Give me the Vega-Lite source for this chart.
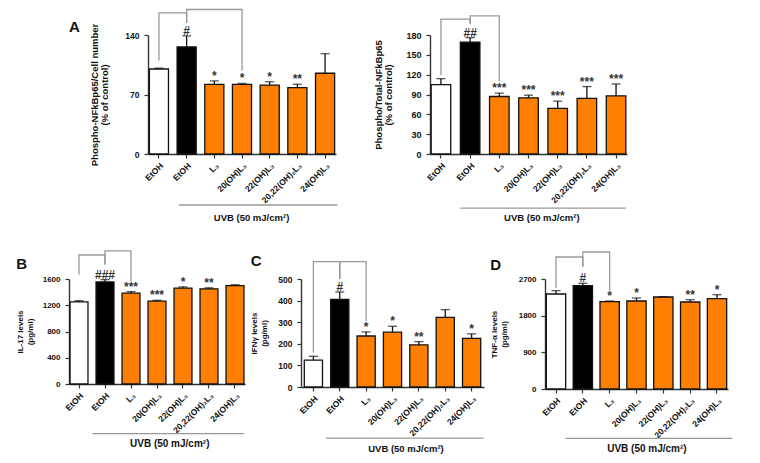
{
  "$schema": "https://vega.github.io/schema/vega-lite/v6.json",
  "background": "white",
  "autosize": {"type": "pad"},
  "padding": {"left": 16, "top": 6, "right": 0, "bottom": 0},
  "config": {
    "view": {"stroke": null},
    "font": "Liberation Sans",
    "axis": {"grid": false, "domainColor": "#333", "domainWidth": 1.4, "tickColor": "#333", "tickWidth": 1.2, "tickSize": 4, "labelFont": "Liberation Sans", "labelFontWeight": "bold", "labelColor": "#111", "labelPadding": 3, "titleFont": "Liberation Sans", "titleFontWeight": "bold", "titleColor": "#111", "titleLineHeight": 10},
    "axisX": {"labelAngle": -45, "title": null, "labelFontSize": 8.5},
    "axisY": {"labelPadding": 5, "labelOverlap": false},
    "title": {"font": "Liberation Sans", "color": "#111", "fontWeight": "bold", "fontSize": 15}
  },
  "datasets": {
    "a1": [
      {"g": "EtOH", "v": 100, "err": 101, "sig": ""},
      {"g": "EtOH UVB", "v": 126, "err": 139, "sig": "#"},
      {"g": "L₃", "v": 82, "err": 86, "sig": "*"},
      {"g": "20(OH)L₃", "v": 82, "err": 83, "sig": "*"},
      {"g": "22(OH)L₃", "v": 81, "err": 85, "sig": "*"},
      {"g": "20,22(OH)₂L₃", "v": 78, "err": 82, "sig": "**"},
      {"g": "24(OH)L₃", "v": 95, "err": 118, "sig": ""}
    ],
    "a1br": [
      {"b": 1, "o": 1, "g": "EtOH", "v": 110}, {"b": 1, "o": 2, "g": "EtOH", "v": 166}, {"b": 1, "o": 3, "g": "EtOH UVB", "v": 166}, {"b": 1, "o": 4, "g": "EtOH UVB", "v": 154},
      {"b": 2, "o": 1, "g": "EtOH UVB", "v": 154}, {"b": 2, "o": 2, "g": "EtOH UVB", "v": 170}, {"b": 2, "o": 3, "g": "20(OH)L₃", "v": 170}, {"b": 2, "o": 4, "g": "20(OH)L₃", "v": 98}
    ],
    "a2": [
      {"g": "EtOH", "v": 105, "err": 114, "sig": ""},
      {"g": "EtOH UVB", "v": 169, "err": 176, "sig": "##"},
      {"g": "L₃", "v": 87, "err": 92, "sig": "***"},
      {"g": "20(OH)L₃", "v": 85, "err": 89, "sig": "***"},
      {"g": "22(OH)L₃", "v": 69, "err": 80, "sig": "***"},
      {"g": "20,22(OH)₂L₃", "v": 84, "err": 102, "sig": "***"},
      {"g": "24(OH)L₃", "v": 88, "err": 106, "sig": "***"}
    ],
    "a2br": [
      {"b": 1, "o": 1, "g": "EtOH", "v": 119}, {"b": 1, "o": 2, "g": "EtOH", "v": 204}, {"b": 1, "o": 3, "g": "EtOH UVB", "v": 204}, {"b": 1, "o": 4, "g": "EtOH UVB", "v": 197},
      {"b": 2, "o": 1, "g": "EtOH UVB", "v": 197}, {"b": 2, "o": 2, "g": "EtOH UVB", "v": 209}, {"b": 2, "o": 3, "g": "L₃", "v": 209}, {"b": 2, "o": 4, "g": "L₃", "v": 110}
    ],
    "b": [
      {"g": "EtOH", "v": 1250, "err": 1270, "sig": ""},
      {"g": "EtOH UVB", "v": 1555, "err": 1590, "sig": "###"},
      {"g": "L₃", "v": 1385, "err": 1408, "sig": "***"},
      {"g": "20(OH)L₃", "v": 1262, "err": 1275, "sig": "***"},
      {"g": "22(OH)L₃", "v": 1462, "err": 1480, "sig": "*"},
      {"g": "20,22(OH)₂L₃", "v": 1450, "err": 1465, "sig": "**"},
      {"g": "24(OH)L₃", "v": 1500, "err": 1512, "sig": ""}
    ],
    "bbr": [
      {"b": 1, "o": 1, "g": "EtOH", "v": 1667}, {"b": 1, "o": 2, "g": "EtOH", "v": 1966}, {"b": 1, "o": 3, "g": "EtOH UVB", "v": 1966}, {"b": 1, "o": 4, "g": "EtOH UVB", "v": 1820},
      {"b": 2, "o": 1, "g": "EtOH UVB", "v": 1820}, {"b": 2, "o": 2, "g": "EtOH UVB", "v": 2028}, {"b": 2, "o": 3, "g": "L₃", "v": 2028}, {"b": 2, "o": 4, "g": "L₃", "v": 1560}
    ],
    "c": [
      {"g": "EtOH", "v": 124, "err": 142, "sig": ""},
      {"g": "EtOH UVB", "v": 406, "err": 440, "sig": "#"},
      {"g": "L₃", "v": 236, "err": 255, "sig": "*"},
      {"g": "20(OH)L₃", "v": 254, "err": 281, "sig": "*"},
      {"g": "22(OH)L₃", "v": 195, "err": 210, "sig": "**"},
      {"g": "20,22(OH)₂L₃", "v": 322, "err": 358, "sig": ""},
      {"g": "24(OH)L₃", "v": 225, "err": 246, "sig": "*"}
    ],
    "cbr": [
      {"b": 1, "o": 1, "g": "EtOH", "v": 160}, {"b": 1, "o": 2, "g": "EtOH", "v": 580}, {"b": 1, "o": 3, "g": "EtOH UVB", "v": 580}, {"b": 1, "o": 4, "g": "EtOH UVB", "v": 500},
      {"b": 2, "o": 1, "g": "EtOH UVB", "v": 500}, {"b": 2, "o": 2, "g": "EtOH UVB", "v": 580}, {"b": 2, "o": 3, "g": "L₃", "v": 580}, {"b": 2, "o": 4, "g": "L₃", "v": 305}
    ],
    "d": [
      {"g": "EtOH", "v": 2332, "err": 2414, "sig": ""},
      {"g": "EtOH UVB", "v": 2536, "err": 2594, "sig": "#"},
      {"g": "L₃", "v": 2144, "err": 2160, "sig": "*"},
      {"g": "20(OH)L₃", "v": 2160, "err": 2234, "sig": "*"},
      {"g": "22(OH)L₃", "v": 2258, "err": 2266, "sig": ""},
      {"g": "20,22(OH)₂L₃", "v": 2135, "err": 2193, "sig": "**"},
      {"g": "24(OH)L₃", "v": 2217, "err": 2315, "sig": "*"}
    ],
    "dbr": [
      {"b": 1, "o": 1, "g": "EtOH", "v": 2479}, {"b": 1, "o": 2, "g": "EtOH", "v": 3240}, {"b": 1, "o": 3, "g": "EtOH UVB", "v": 3240}, {"b": 1, "o": 4, "g": "EtOH UVB", "v": 3002},
      {"b": 2, "o": 1, "g": "EtOH UVB", "v": 3002}, {"b": 2, "o": 2, "g": "EtOH UVB", "v": 3363}, {"b": 2, "o": 3, "g": "L₃", "v": 3363}, {"b": 2, "o": 4, "g": "L₃", "v": 2420}
    ]
  },
  "vconcat": [
    {
      "hconcat": [
        {
          "width": 12, "height": 119,
          "title": {"text": "A", "anchor": "start", "frame": "group", "offset": 0},
          "data": {"values": [{}]},
          "mark": {"type": "text", "text": ""},
          "encoding": {}
        },
        {
          "width": 188, "height": 119,
          "data": {"name": "a1"},
          "encoding": {
            "x": {"field": "g", "type": "nominal", "sort": null, "scale": {"domain": ["EtOH", "EtOH UVB", "L₃", "20(OH)L₃", "22(OH)L₃", "20,22(OH)₂L₃", "24(OH)L₃"], "paddingInner": 0.31, "paddingOuter": 0.05}, "axis": {"labelExpr": "datum.value == 'EtOH UVB' ? 'EtOH' : datum.label"}}
          },
          "layer": [
            {"mark": {"type": "bar", "stroke": "#111", "strokeWidth": 1.3},
             "encoding": {
               "y": {"field": "v", "type": "quantitative", "scale": {"domain": [0, 140], "nice": false}, "axis": {"values": [0, 70, 140], "format": "d", "labelOverlap": false, "labelFontSize": 8.5, "titleFontSize": 9.5, "titlePadding": 15, "title": ["Phospho-NFkBp65/Cell number", "(% of control)"]}},
               "fill": {"field": "g", "type": "nominal", "scale": {"domain": ["EtOH", "EtOH UVB", "L₃", "20(OH)L₃", "22(OH)L₃", "20,22(OH)₂L₃", "24(OH)L₃"], "range": ["#ffffff", "#000000", "#ff8000", "#ff8000", "#ff8000", "#ff8000", "#ff8000"]}, "legend": null}
             }},
            {"mark": {"type": "rule", "color": "#111", "strokeWidth": 1.3}, "encoding": {"y": {"field": "v", "type": "quantitative", "axis": {"values": [0, 70, 140], "format": "d", "labelOverlap": false, "labelFontSize": 8.5, "titleFontSize": 9.5, "titlePadding": 15, "title": ["Phospho-NFkBp65/Cell number", "(% of control)"]}}, "y2": {"field": "err"}}},
            {"mark": {"type": "tick", "color": "#111", "thickness": 1.3, "size": 9}, "encoding": {"y": {"field": "err", "type": "quantitative", "axis": {"values": [0, 70, 140], "format": "d", "labelOverlap": false, "labelFontSize": 8.5, "titleFontSize": 9.5, "titlePadding": 15, "title": ["Phospho-NFkBp65/Cell number", "(% of control)"]}}}},
            {"mark": {"type": "text", "fontSize": 12, "fontWeight": "bold", "baseline": "alphabetic", "dy": -1, "color": "#333"}, "encoding": {"y": {"field": "err", "type": "quantitative", "axis": {"values": [0, 70, 140], "format": "d", "labelOverlap": false, "labelFontSize": 8.5, "titleFontSize": 9.5, "titlePadding": 15, "title": ["Phospho-NFkBp65/Cell number", "(% of control)"]}}, "text": {"field": "sig"}}},
            {"data": {"name": "a1br"}, "mark": {"type": "line", "color": "#999", "strokeWidth": 1.3}, "encoding": {"y": {"field": "v", "type": "quantitative", "axis": {"values": [0, 70, 140], "format": "d", "labelOverlap": false, "labelFontSize": 8.5, "titleFontSize": 9.5, "titlePadding": 15, "title": ["Phospho-NFkBp65/Cell number", "(% of control)"]}}, "detail": {"field": "b"}, "order": {"field": "o"}}},
            {"data": {"values": [{}]}, "mark": {"type": "rule", "color": "#999", "strokeWidth": 1.3}, "encoding": {"x": {"datum": "EtOH UVB", "bandPosition": 0.1}, "x2": {"datum": "24(OH)L₃", "bandPosition": 1.15}, "y": {"datum": -60, "axis": {"values": [0, 70, 140], "format": "d", "labelOverlap": false, "labelFontSize": 8.5, "titleFontSize": 9.5, "titlePadding": 15, "title": ["Phospho-NFkBp65/Cell number", "(% of control)"]}}}},
            {"data": {"values": [{}]}, "mark": {"type": "text", "text": "UVB (50 mJ/cm²)", "fontSize": 9.5, "fontWeight": "bold", "baseline": "middle", "color": "#111"}, "encoding": {"x": {"datum": "20(OH)L₃", "bandPosition": 1}, "y": {"datum": -75, "axis": {"values": [0, 70, 140], "format": "d", "labelOverlap": false, "labelFontSize": 8.5, "titleFontSize": 9.5, "titlePadding": 15, "title": ["Phospho-NFkBp65/Cell number", "(% of control)"]}}}}
          ]
        },
        {
          "width": 18, "height": 119,
          "data": {"values": [{}]},
          "mark": {"type": "text", "text": ""},
          "encoding": {}
        },
        {
          "width": 197, "height": 119,
          "data": {"name": "a2"},
          "encoding": {
            "x": {"field": "g", "type": "nominal", "sort": null, "scale": {"domain": ["EtOH", "EtOH UVB", "L₃", "20(OH)L₃", "22(OH)L₃", "20,22(OH)₂L₃", "24(OH)L₃"], "paddingInner": 0.33, "paddingOuter": 0.04}, "axis": {"labelExpr": "datum.value == 'EtOH UVB' ? 'EtOH' : datum.label"}}
          },
          "layer": [
            {"mark": {"type": "bar", "stroke": "#111", "strokeWidth": 1.3},
             "encoding": {
               "y": {"field": "v", "type": "quantitative", "scale": {"domain": [0, 180], "nice": false}, "axis": {"values": [0, 30, 60, 90, 120, 150, 180], "format": "d", "labelOverlap": false, "labelFontSize": 9, "titleFontSize": 9.5, "titlePadding": 12, "title": ["Phospho/Total-NFkBp65", "(% of control)"]}},
               "fill": {"field": "g", "type": "nominal", "scale": {"domain": ["EtOH", "EtOH UVB", "L₃", "20(OH)L₃", "22(OH)L₃", "20,22(OH)₂L₃", "24(OH)L₃"], "range": ["#ffffff", "#000000", "#ff8000", "#ff8000", "#ff8000", "#ff8000", "#ff8000"]}, "legend": null}
             }},
            {"mark": {"type": "rule", "color": "#111", "strokeWidth": 1.3}, "encoding": {"y": {"field": "v", "type": "quantitative", "axis": {"values": [0, 30, 60, 90, 120, 150, 180], "format": "d", "labelOverlap": false, "labelFontSize": 9, "titleFontSize": 9.5, "titlePadding": 12, "title": ["Phospho/Total-NFkBp65", "(% of control)"]}}, "y2": {"field": "err"}}},
            {"mark": {"type": "tick", "color": "#111", "thickness": 1.3, "size": 9}, "encoding": {"y": {"field": "err", "type": "quantitative", "axis": {"values": [0, 30, 60, 90, 120, 150, 180], "format": "d", "labelOverlap": false, "labelFontSize": 9, "titleFontSize": 9.5, "titlePadding": 12, "title": ["Phospho/Total-NFkBp65", "(% of control)"]}}}},
            {"mark": {"type": "text", "fontSize": 12, "fontWeight": "bold", "baseline": "alphabetic", "dy": -1, "color": "#333"}, "encoding": {"y": {"field": "err", "type": "quantitative", "axis": {"values": [0, 30, 60, 90, 120, 150, 180], "format": "d", "labelOverlap": false, "labelFontSize": 9, "titleFontSize": 9.5, "titlePadding": 12, "title": ["Phospho/Total-NFkBp65", "(% of control)"]}}, "text": {"field": "sig"}}},
            {"data": {"name": "a2br"}, "mark": {"type": "line", "color": "#999", "strokeWidth": 1.3}, "encoding": {"y": {"field": "v", "type": "quantitative", "axis": {"values": [0, 30, 60, 90, 120, 150, 180], "format": "d", "labelOverlap": false, "labelFontSize": 9, "titleFontSize": 9.5, "titlePadding": 12, "title": ["Phospho/Total-NFkBp65", "(% of control)"]}}, "detail": {"field": "b"}, "order": {"field": "o"}}},
            {"data": {"values": [{}]}, "mark": {"type": "rule", "color": "#999", "strokeWidth": 1.3}, "encoding": {"x": {"datum": "EtOH UVB", "bandPosition": 0}, "x2": {"datum": "24(OH)L₃", "bandPosition": 1}, "y": {"datum": -82, "axis": {"values": [0, 30, 60, 90, 120, 150, 180], "format": "d", "labelOverlap": false, "labelFontSize": 9, "titleFontSize": 9.5, "titlePadding": 12, "title": ["Phospho/Total-NFkBp65", "(% of control)"]}}}},
            {"data": {"values": [{}]}, "mark": {"type": "text", "text": "UVB (50 mJ/cm²)", "fontSize": 9.5, "fontWeight": "bold", "baseline": "middle", "color": "#111"}, "encoding": {"x": {"datum": "20(OH)L₃", "bandPosition": 1.18}, "y": {"datum": -97, "axis": {"values": [0, 30, 60, 90, 120, 150, 180], "format": "d", "labelOverlap": false, "labelFontSize": 9, "titleFontSize": 9.5, "titlePadding": 12, "title": ["Phospho/Total-NFkBp65", "(% of control)"]}}}}
          ]
        }
      ],
      "spacing": 8
    },
    {
      "hconcat": [
        {
          "width": 176, "height": 105,
          "title": {"text": "B", "anchor": "start", "frame": "bounds", "offset": 0, "dy": 24},
          "data": {"name": "b"},
          "encoding": {
            "x": {"field": "g", "type": "nominal", "sort": null, "scale": {"domain": ["EtOH", "EtOH UVB", "L₃", "20(OH)L₃", "22(OH)L₃", "20,22(OH)₂L₃", "24(OH)L₃"], "paddingInner": 0.31, "paddingOuter": 0.04}, "axis": {"labelExpr": "datum.value == 'EtOH UVB' ? 'EtOH' : datum.label"}}
          },
          "layer": [
            {"mark": {"type": "bar", "stroke": "#111", "strokeWidth": 1.3},
             "encoding": {
               "y": {"field": "v", "type": "quantitative", "scale": {"domain": [0, 1600], "nice": false}, "axis": {"values": [0, 400, 800, 1200, 1600], "format": "d", "labelOverlap": false, "labelFontSize": 8, "titleFontSize": 8, "titlePadding": 8, "title": ["IL-17 levels", "(pg/ml)"]}},
               "fill": {"field": "g", "type": "nominal", "scale": {"domain": ["EtOH", "EtOH UVB", "L₃", "20(OH)L₃", "22(OH)L₃", "20,22(OH)₂L₃", "24(OH)L₃"], "range": ["#ffffff", "#000000", "#ff8000", "#ff8000", "#ff8000", "#ff8000", "#ff8000"]}, "legend": null}
             }},
            {"mark": {"type": "rule", "color": "#111", "strokeWidth": 1.3}, "encoding": {"y": {"field": "v", "type": "quantitative", "axis": {"values": [0, 400, 800, 1200, 1600], "format": "d", "labelOverlap": false, "labelFontSize": 8, "titleFontSize": 8, "titlePadding": 8, "title": ["IL-17 levels", "(pg/ml)"]}}, "y2": {"field": "err"}}},
            {"mark": {"type": "tick", "color": "#111", "thickness": 1.3, "size": 9}, "encoding": {"y": {"field": "err", "type": "quantitative", "axis": {"values": [0, 400, 800, 1200, 1600], "format": "d", "labelOverlap": false, "labelFontSize": 8, "titleFontSize": 8, "titlePadding": 8, "title": ["IL-17 levels", "(pg/ml)"]}}}},
            {"mark": {"type": "text", "fontSize": 12, "fontWeight": "bold", "baseline": "alphabetic", "dy": -1, "color": "#333"}, "encoding": {"y": {"field": "err", "type": "quantitative", "axis": {"values": [0, 400, 800, 1200, 1600], "format": "d", "labelOverlap": false, "labelFontSize": 8, "titleFontSize": 8, "titlePadding": 8, "title": ["IL-17 levels", "(pg/ml)"]}}, "text": {"field": "sig"}}},
            {"data": {"name": "bbr"}, "mark": {"type": "line", "color": "#999", "strokeWidth": 1.3}, "encoding": {"y": {"field": "v", "type": "quantitative", "axis": {"values": [0, 400, 800, 1200, 1600], "format": "d", "labelOverlap": false, "labelFontSize": 8, "titleFontSize": 8, "titlePadding": 8, "title": ["IL-17 levels", "(pg/ml)"]}}, "detail": {"field": "b"}, "order": {"field": "o"}}},
            {"data": {"values": [{}]}, "mark": {"type": "rule", "color": "#999", "strokeWidth": 1.3}, "encoding": {"x": {"datum": "EtOH UVB", "bandPosition": -0.2}, "x2": {"datum": "24(OH)L₃", "bandPosition": 1}, "y": {"datum": -757, "axis": {"values": [0, 400, 800, 1200, 1600], "format": "d", "labelOverlap": false, "labelFontSize": 8, "titleFontSize": 8, "titlePadding": 8, "title": ["IL-17 levels", "(pg/ml)"]}}}},
            {"data": {"values": [{}]}, "mark": {"type": "text", "text": "UVB (50 mJ/cm²)", "fontSize": 10, "fontWeight": "bold", "baseline": "middle", "color": "#111"}, "encoding": {"x": {"datum": "20(OH)L₃", "bandPosition": 1.21}, "y": {"datum": -914, "axis": {"values": [0, 400, 800, 1200, 1600], "format": "d", "labelOverlap": false, "labelFontSize": 8, "titleFontSize": 8, "titlePadding": 8, "title": ["IL-17 levels", "(pg/ml)"]}}}}
          ]
        },
        {
          "width": 183, "height": 108,
          "title": {"text": "C", "anchor": "start", "frame": "bounds", "offset": 0, "dy": 10},
          "data": {"name": "c"},
          "encoding": {
            "x": {"field": "g", "type": "nominal", "sort": null, "scale": {"domain": ["EtOH", "EtOH UVB", "L₃", "20(OH)L₃", "22(OH)L₃", "20,22(OH)₂L₃", "24(OH)L₃"], "paddingInner": 0.31, "paddingOuter": 0.125}, "axis": {"labelExpr": "datum.value == 'EtOH UVB' ? 'EtOH' : datum.label"}}
          },
          "layer": [
            {"mark": {"type": "bar", "stroke": "#111", "strokeWidth": 1.3},
             "encoding": {
               "y": {"field": "v", "type": "quantitative", "scale": {"domain": [0, 500], "nice": false}, "axis": {"values": [0, 100, 200, 300, 400, 500], "format": "d", "labelOverlap": false, "labelFontSize": 8.5, "titleFontSize": 8, "titlePadding": 9, "title": ["IFNγ levels", "(pg/ml)"]}},
               "fill": {"field": "g", "type": "nominal", "scale": {"domain": ["EtOH", "EtOH UVB", "L₃", "20(OH)L₃", "22(OH)L₃", "20,22(OH)₂L₃", "24(OH)L₃"], "range": ["#ffffff", "#000000", "#ff8000", "#ff8000", "#ff8000", "#ff8000", "#ff8000"]}, "legend": null}
             }},
            {"mark": {"type": "rule", "color": "#111", "strokeWidth": 1.3}, "encoding": {"y": {"field": "v", "type": "quantitative", "axis": {"values": [0, 100, 200, 300, 400, 500], "format": "d", "labelOverlap": false, "labelFontSize": 8.5, "titleFontSize": 8, "titlePadding": 9, "title": ["IFNγ levels", "(pg/ml)"]}}, "y2": {"field": "err"}}},
            {"mark": {"type": "tick", "color": "#111", "thickness": 1.3, "size": 9}, "encoding": {"y": {"field": "err", "type": "quantitative", "axis": {"values": [0, 100, 200, 300, 400, 500], "format": "d", "labelOverlap": false, "labelFontSize": 8.5, "titleFontSize": 8, "titlePadding": 9, "title": ["IFNγ levels", "(pg/ml)"]}}}},
            {"mark": {"type": "text", "fontSize": 12, "fontWeight": "bold", "baseline": "alphabetic", "dy": -1, "color": "#333"}, "encoding": {"y": {"field": "err", "type": "quantitative", "axis": {"values": [0, 100, 200, 300, 400, 500], "format": "d", "labelOverlap": false, "labelFontSize": 8.5, "titleFontSize": 8, "titlePadding": 9, "title": ["IFNγ levels", "(pg/ml)"]}}, "text": {"field": "sig"}}},
            {"data": {"name": "cbr"}, "mark": {"type": "line", "color": "#999", "strokeWidth": 1.3}, "encoding": {"y": {"field": "v", "type": "quantitative", "axis": {"values": [0, 100, 200, 300, 400, 500], "format": "d", "labelOverlap": false, "labelFontSize": 8.5, "titleFontSize": 8, "titlePadding": 9, "title": ["IFNγ levels", "(pg/ml)"]}}, "detail": {"field": "b"}, "order": {"field": "o"}}},
            {"data": {"values": [{}]}, "mark": {"type": "rule", "color": "#999", "strokeWidth": 1.3}, "encoding": {"x": {"datum": "EtOH UVB", "bandPosition": -0.25}, "x2": {"datum": "24(OH)L₃", "bandPosition": 1.15}, "y": {"datum": -237, "axis": {"values": [0, 100, 200, 300, 400, 500], "format": "d", "labelOverlap": false, "labelFontSize": 8.5, "titleFontSize": 8, "titlePadding": 9, "title": ["IFNγ levels", "(pg/ml)"]}}}},
            {"data": {"values": [{}]}, "mark": {"type": "text", "text": "UVB (50 mJ/cm²)", "fontSize": 9.5, "fontWeight": "bold", "baseline": "middle", "color": "#111"}, "encoding": {"x": {"datum": "20(OH)L₃", "bandPosition": 1.24}, "y": {"datum": -287, "axis": {"values": [0, 100, 200, 300, 400, 500], "format": "d", "labelOverlap": false, "labelFontSize": 8.5, "titleFontSize": 8, "titlePadding": 9, "title": ["IFNγ levels", "(pg/ml)"]}}}}
          ]
        },
        {
          "width": 183, "height": 110,
          "title": {"text": "D", "anchor": "start", "frame": "bounds", "offset": 0, "dy": 24},
          "data": {"name": "d"},
          "encoding": {
            "x": {"field": "g", "type": "nominal", "sort": null, "scale": {"domain": ["EtOH", "EtOH UVB", "L₃", "20(OH)L₃", "22(OH)L₃", "20,22(OH)₂L₃", "24(OH)L₃"], "paddingInner": 0.28, "paddingOuter": 0.05}, "axis": {"labelExpr": "datum.value == 'EtOH UVB' ? 'EtOH' : datum.label"}}
          },
          "layer": [
            {"mark": {"type": "bar", "stroke": "#111", "strokeWidth": 1.3},
             "encoding": {
               "y": {"field": "v", "type": "quantitative", "scale": {"domain": [0, 2700], "nice": false}, "axis": {"values": [0, 900, 1800, 2700], "format": "d", "labelOverlap": false, "labelFontSize": 8, "titleFontSize": 8, "titlePadding": 10, "title": ["TNF-α levels", "(pg/ml)"]}},
               "fill": {"field": "g", "type": "nominal", "scale": {"domain": ["EtOH", "EtOH UVB", "L₃", "20(OH)L₃", "22(OH)L₃", "20,22(OH)₂L₃", "24(OH)L₃"], "range": ["#ffffff", "#000000", "#ff8000", "#ff8000", "#ff8000", "#ff8000", "#ff8000"]}, "legend": null}
             }},
            {"mark": {"type": "rule", "color": "#111", "strokeWidth": 1.3}, "encoding": {"y": {"field": "v", "type": "quantitative", "axis": {"values": [0, 900, 1800, 2700], "format": "d", "labelOverlap": false, "labelFontSize": 8, "titleFontSize": 8, "titlePadding": 10, "title": ["TNF-α levels", "(pg/ml)"]}}, "y2": {"field": "err"}}},
            {"mark": {"type": "tick", "color": "#111", "thickness": 1.3, "size": 9}, "encoding": {"y": {"field": "err", "type": "quantitative", "axis": {"values": [0, 900, 1800, 2700], "format": "d", "labelOverlap": false, "labelFontSize": 8, "titleFontSize": 8, "titlePadding": 10, "title": ["TNF-α levels", "(pg/ml)"]}}}},
            {"mark": {"type": "text", "fontSize": 12, "fontWeight": "bold", "baseline": "alphabetic", "dy": -1, "color": "#333"}, "encoding": {"y": {"field": "err", "type": "quantitative", "axis": {"values": [0, 900, 1800, 2700], "format": "d", "labelOverlap": false, "labelFontSize": 8, "titleFontSize": 8, "titlePadding": 10, "title": ["TNF-α levels", "(pg/ml)"]}}, "text": {"field": "sig"}}},
            {"data": {"name": "dbr"}, "mark": {"type": "line", "color": "#999", "strokeWidth": 1.3}, "encoding": {"y": {"field": "v", "type": "quantitative", "axis": {"values": [0, 900, 1800, 2700], "format": "d", "labelOverlap": false, "labelFontSize": 8, "titleFontSize": 8, "titlePadding": 10, "title": ["TNF-α levels", "(pg/ml)"]}}, "detail": {"field": "b"}, "order": {"field": "o"}}},
            {"data": {"values": [{}]}, "mark": {"type": "rule", "color": "#999", "strokeWidth": 1.3}, "encoding": {"x": {"datum": "EtOH UVB", "bandPosition": -0.4}, "x2": {"datum": "24(OH)L₃", "bandPosition": 1.3}, "y": {"datum": -1210, "axis": {"values": [0, 900, 1800, 2700], "format": "d", "labelOverlap": false, "labelFontSize": 8, "titleFontSize": 8, "titlePadding": 10, "title": ["TNF-α levels", "(pg/ml)"]}}}},
            {"data": {"values": [{}]}, "mark": {"type": "text", "text": "UVB (50 mJ/cm²)", "fontSize": 10, "fontWeight": "bold", "baseline": "middle", "color": "#111"}, "encoding": {"x": {"datum": "20(OH)L₃", "bandPosition": 1.04}, "y": {"datum": -1473, "axis": {"values": [0, 900, 1800, 2700], "format": "d", "labelOverlap": false, "labelFontSize": 8, "titleFontSize": 8, "titlePadding": 10, "title": ["TNF-α levels", "(pg/ml)"]}}}}
          ]
        }
      ],
      "spacing": 5
    }
  ],
  "spacing": 25
}
